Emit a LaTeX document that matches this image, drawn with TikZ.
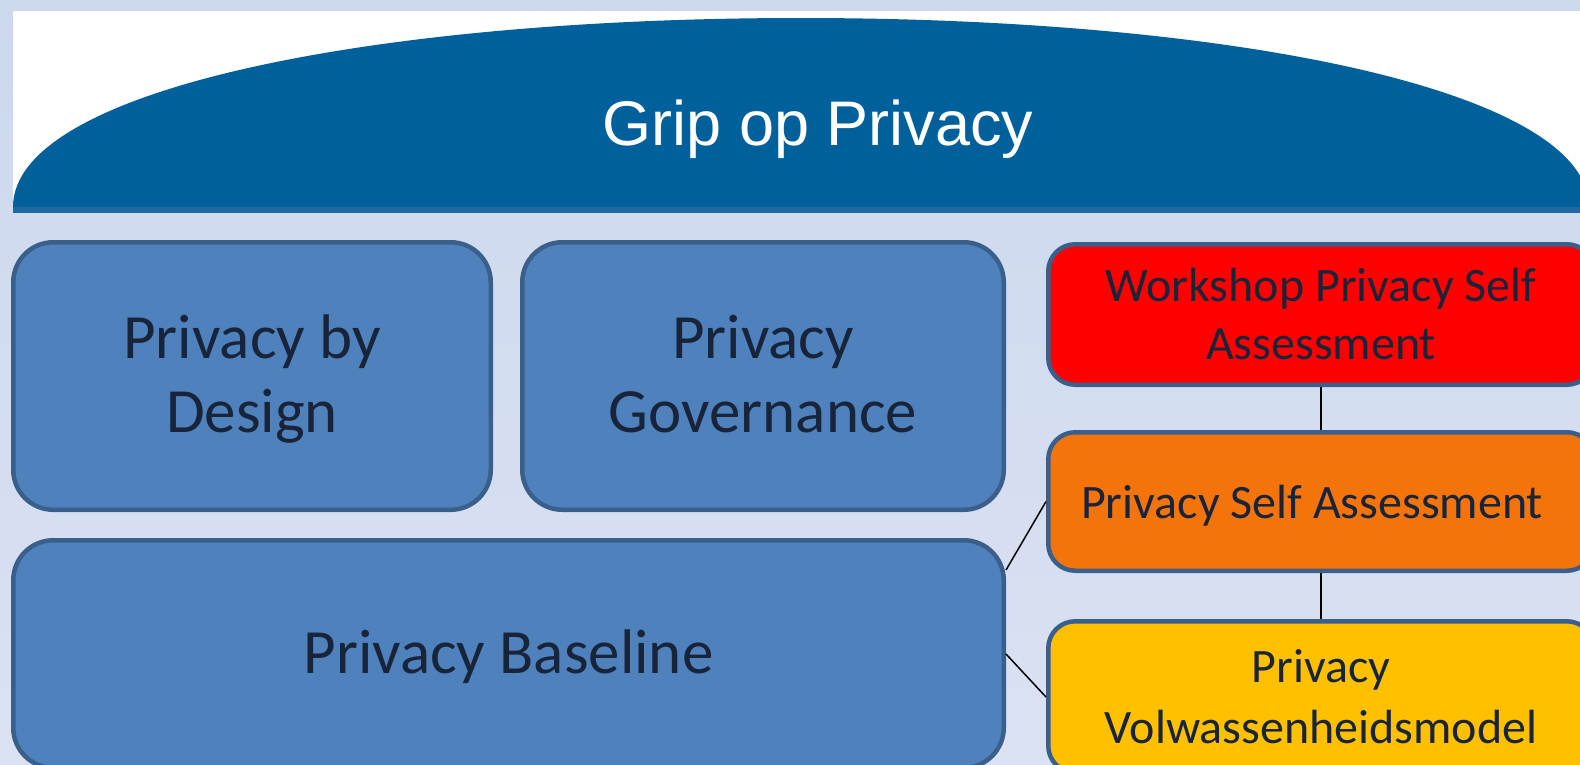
\documentclass[tikz,border=0pt]{standalone}
\usepackage{fontspec}
\setmainfont{Carlito}
\newfontfamily\arialf{Liberation Sans}
\definecolor{bgtop}{HTML}{CCD8EE}
\definecolor{bgbot}{HTML}{DAE2F2}
\definecolor{archblue}{HTML}{00609B}
\definecolor{stripeblue}{HTML}{2068A2}
\definecolor{boxblue}{HTML}{4F81BD}
\definecolor{boxline}{HTML}{3A5F8B}
\definecolor{txtdark}{HTML}{18243A}
\definecolor{wred}{HTML}{FF0000}
\definecolor{sorange}{HTML}{F4740C}
\definecolor{myellow}{HTML}{FFC000}
\tikzset{
  bigbox/.style={draw=boxline, line width=4.5pt, fill=boxblue, rounded corners=40pt,
    text=txtdark, align=center, inner sep=0pt, text depth=4pt, font=\fontsize{63}{74}\selectfont},
  sidebox/.style={draw=boxline, line width=4.5pt, rounded corners=27pt,
    text=txtdark, align=center, inner sep=0pt, minimum width=545.5pt, font=\fontsize{48}{58}\selectfont},
  link/.style={draw=black, line width=1.5pt}
}
\begin{document}
\begin{tikzpicture}[x=1pt, y=-1pt]
\useasboundingbox (0,0) rectangle (1580,764);
\clip (0,0) rectangle (1580,764);
\shade[top color=bgtop, bottom color=bgbot] (0,0) rectangle (1580,764);
% header
\fill[white] (13,11) rectangle (1580,212);
\fill[archblue] (13,207) .. controls (13,90) and (370,18) .. (801,18)
  .. controls (1232,18) and (1589,90) .. (1589,207) -- cycle;
\fill[stripeblue] (13,207) rectangle (1580,212.5);
\node[text=white, font=\arialf\fontsize{63}{75}\selectfont, anchor=base, inner sep=0pt]
  (title) at (818,145) {Grip op Privacy};
% blue blocks
\node[bigbox, minimum width=477.5pt, minimum height=267.5pt] (pbd) at (252,376) {Privacy by\\Design};
\node[bigbox, minimum width=481.5pt, minimum height=267.5pt] (gov) at (763,376) {Privacy\\Governance};
\node[bigbox, minimum width=990.5pt, minimum height=227.5pt] (base) at (508.5,654) {Privacy Baseline};
% side blocks
\node[sidebox, fill=wred, minimum height=140.5pt] (wps) at (1321,314.5) {Workshop Privacy Self\\Assessment};
\node[sidebox, fill=sorange, minimum height=138.5pt] (psa) at (1321,501.5) {};
\node[text=txtdark, font=\fontsize{48}{58}\selectfont, inner sep=0pt, text depth=0pt] (psatext) at (1312,501.5) {Privacy Self Assessment};
\node[sidebox, fill=myellow, minimum height=151.5pt, font=\fontsize{48}{61}\selectfont] (pvm) at (1321,697) {Privacy\\Volwassenheidsmodel};
% connectors
\coordinate (baseup) at ([yshift=84pt]base.east);
\draw[link] (wps.south) -- (psa.north);
\draw[link] (psa.south) -- (pvm.north);
\draw[link] (baseup) -- (psa.west);
\draw[link] (base.east) -- (pvm.west);
\end{tikzpicture}
\end{document}
